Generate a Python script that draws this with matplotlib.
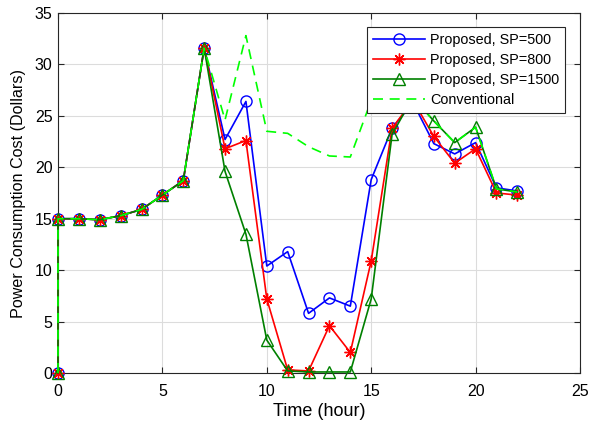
import matplotlib
matplotlib.use("Agg")
import matplotlib.pyplot as plt

plt.rcParams['font.family'] = ['Liberation Sans', 'DejaVu Sans']

hours = [0, 0, 1, 2, 3, 4, 5, 6, 7, 8, 9, 10, 11, 12, 13, 14, 15, 16, 17, 18, 19, 20, 21, 22]
sp500 = [0, 15.0, 15.0, 14.9, 15.3, 15.9, 17.3, 18.7, 31.6, 22.7, 26.4, 10.4, 11.8, 5.8, 7.3, 6.5,
         18.8, 23.8, 26.3, 22.3, 21.3, 22.4, 18.0, 17.7]
sp800 = [0, 15.0, 15.0, 14.9, 15.3, 15.9, 17.3, 18.7, 31.6, 21.8, 22.6, 7.2, 0.3, 0.2, 4.6, 2.0,
         10.9, 23.8, 26.5, 23.0, 20.4, 21.8, 17.5, 17.3]
sp1500 = [0, 15.0, 15.0, 14.9, 15.3, 15.9, 17.3, 18.7, 31.6, 19.6, 13.5, 3.2, 0.2, 0.1, 0.1, 0.1,
          7.2, 23.2, 26.8, 24.5, 22.4, 23.9, 17.9, 17.6]
conventional = [0, 15.0, 15.0, 14.9, 15.3, 15.9, 17.3, 18.7, 31.6, 24.6, 32.8, 23.5, 23.3, 22.0, 21.1, 21.0,
                26.5, 28.0, 26.8, 24.5, 22.4, 23.9, 17.9, 17.6]

labels = ['Proposed, SP=500', 'Proposed, SP=800', 'Proposed, SP=1500', 'Conventional']

fig = plt.figure(figsize=(5.89, 4.24), dpi=100)
ax = fig.add_axes([58/589, 1-373/424, (580-58)/589, (373-13)/424])

dkgreen = (0.0, 0.5, 0.0)
ax.plot(hours, sp500, color='blue', lw=1.2, marker='o', ms=8, mfc='none', mew=1.0,
        label=labels[0], clip_on=False, zorder=3)
ax.plot(hours, sp800, color='red', lw=1.2, marker=(8, 2, 0), ms=8.5, mew=1.0,
        label=labels[1], clip_on=False, zorder=3)
ax.plot(hours, sp1500, color=dkgreen, lw=1.2, marker='^', ms=8, mfc='none', mew=1.0,
        label=labels[2], clip_on=False, zorder=3)
ax.plot(hours, conventional, color=(0, 1, 0), lw=1.2, ls=(0, (6, 4)),
        label=labels[3], clip_on=False, zorder=4)

ax.set_xlim(0, 25)
ax.set_ylim(0, 35)
ax.set_xticks(range(0, 26, 5))
ax.set_yticks(range(0, 36, 5))
ax.grid(True, color='#dcdcdc', lw=0.8)
ax.set_axisbelow(True)
ax.tick_params(direction='in', top=True, right=True, labelsize=11.5, length=4, color='#262626')
ax.tick_params(axis='x', pad=8)
ax.tick_params(axis='y', pad=4)
for s in ax.spines.values():
    s.set_color('#262626')
    s.set_linewidth(0.8)
ax.set_xlabel('Time (hour)', fontsize=13, labelpad=3)
ax.set_ylabel('Power Consumption Cost (Dollars)', fontsize=11.6, labelpad=6)

leg = ax.legend(loc='upper right', bbox_to_anchor=(0.9713, 0.9611), fontsize=10.4, frameon=True,
                fancybox=False, edgecolor='#262626', framealpha=1, handlelength=3.6,
                borderpad=0.4, labelspacing=0.42, handletextpad=0.35, borderaxespad=0)
leg.get_frame().set_linewidth(0.8)
leg.set_zorder(10)

fig.savefig('out.png', dpi=100)
